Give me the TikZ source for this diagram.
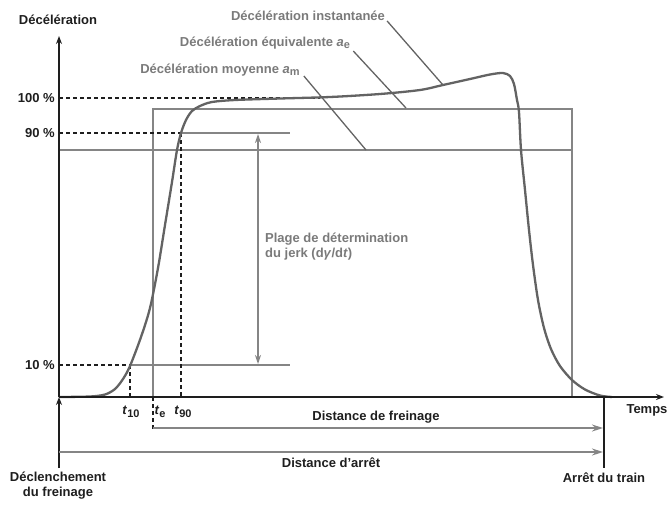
\documentclass[tikz,border=0pt]{standalone}
\usepackage{fontspec}
\setmainfont{Liberation Sans}
\usetikzlibrary{arrows.meta}
\definecolor{gtext}{HTML}{7A7A7A}
\definecolor{gline}{HTML}{858585}
\definecolor{gcurve}{HTML}{636363}
\definecolor{dark}{HTML}{1E1E1E}
\begin{document}
\begin{tikzpicture}[x=1pt,y=-1pt,
  lbl/.style={font=\fontsize{13}{15}\selectfont\bfseries, text=dark, inner sep=0pt},
  glbl/.style={font=\fontsize{13}{15}\selectfont\bfseries, text=gtext, inner sep=0pt},
  axisline/.style={draw=dark, line width=1.3pt},
  dashline/.style={draw=dark, line width=1.2pt, dash pattern=on 4pt off 3pt},
  gl/.style={draw=gline, line width=2pt},
  leader/.style={draw=gcurve, line width=1.3pt},
  darr/.style={draw=gline, line width=1.6pt, -{Stealth[length=11pt,width=7pt]}},
  tip/.style={-{Stealth[length=8pt,width=6pt]}}
]
\useasboundingbox (0,0) rectangle (669,504);

% coordinates
\coordinate (O) at (59,397);
\coordinate (Ytop) at (59,36);
\coordinate (Xend) at (664,397);
\coordinate (Obot) at (59,468);
\coordinate (Sbot) at (604,468);
\coordinate (Stop) at (604,397);

% a_e rectangle and a_m line
\draw[gl] (153,397) -- (153,108.5) -- (572,108.5) -- (572,397);
\draw[gl] (59,150) -- (572,150);

% 90% and 10% lines
\draw[gl] (181,133) -- (290,133);
\draw[gl] (130,365) -- (290,365);
\draw[dashline] (59,98) -- (320,98);
\draw[dashline] (59,133) -- (181,133);
\draw[dashline] (59,365) -- (130,365);
\draw[dashline] (181,133) -- (181,397);
\draw[dashline] (130,365) -- (130,397);
\draw[dashline] (153,397) -- (153,431);

% jerk range double arrow
\coordinate (J1) at (258,134);
\coordinate (J2) at (258,364);
\draw[draw=gline, line width=1.3pt, {Stealth[length=9pt,width=6pt]}-{Stealth[length=9pt,width=6pt]}] (J1) -- (J2);

% instantaneous deceleration curve
\draw[draw=gcurve, line width=2.3pt, line join=round] plot[smooth, tension=0.5] coordinates {
(59,397) (90,396.5) (105,394.5) (115,389) (123,379) (130,366) (141,337) (150,308)
(158,268) (165,225) (172,182) (177,150) (181,133) (186,120) (192,111) (200,106)
(212,102) (235,100) (280,98.5) (330,97) (380,94) (420,90) (443,85) (470,79) (490,74.5) (503,73)
(510,76) (514,84) (517,100) (519,112) (521,150) (525,190) (529,230) (533,265)
(538,300) (544,328) (551,349) (560,366) (572,380) (585,389.5) (600,395.5) (612,397)};

% axes
\draw[axisline, tip] (O) -- (Ytop);
\draw[axisline, tip] (O) -- (Xend);
\draw[axisline, tip] (Obot) -- (O);
\draw[axisline] (Stop) -- (Sbot);

% distances
\coordinate (DF1) at (153,428);
\coordinate (DF2) at (603,428);
\coordinate (DA1) at (59,452);
\coordinate (DA2) at (603,452);
\draw[darr] (DF1) -- (DF2);
\draw[darr] (DA1) -- (DA2);

% labels
\node[lbl] (ylab) at (58,20) {Décélération};
\node[lbl, anchor=east] (p100) at (55,98) {100~\%};
\node[lbl, anchor=east] (p90) at (55,133) {90~\%};
\node[lbl, anchor=east] (p10) at (55,365) {10~\%};
\node[lbl] (temps) at (647,410) {Temps};
\node[lbl] (t10) at (131,412) {\textit{t}\raisebox{-0.35ex}{\fontsize{11}{12}\selectfont 10}};
\node[lbl] (te) at (160,412) {\textit{t}\raisebox{-0.35ex}{\fontsize{11}{12}\selectfont e}};
\node[lbl] (t90) at (183,412) {\textit{t}\raisebox{-0.35ex}{\fontsize{11}{12}\selectfont 90}};
\node[lbl] (dfr) at (376,417) {Distance de freinage};
\node[lbl] (dar) at (331,463) {Distance d’arrêt};
\node[lbl] (arr) at (604,478) {Arrêt du train};
\node[lbl, align=center] (decl) at (58,486) {Déclenchement\\du freinage};

\node[glbl] (inst) at (308,16) {Décélération instantanée};
\node[glbl] (equi) at (265,43) {Décélération équivalente \textit{a}\raisebox{-0.35ex}{\fontsize{11}{12}\selectfont e}};
\node[glbl] (moy) at (220,70) {Décélération moyenne \textit{a}\raisebox{-0.35ex}{\fontsize{11}{12}\selectfont m}};
\node[glbl, align=left, anchor=north west] (plage) at (265,233) {Plage de détermination\\du jerk (d\textit{γ}/d\textit{t})};

% leaders
\coordinate (Linst) at (443,85);
\coordinate (Lequi) at (406,108);
\coordinate (Lmoy) at (366,150);
\draw[leader] ([xshift=2pt,yshift=-5pt]inst.east) -- (Linst);
\draw[leader] ([xshift=3pt,yshift=-8pt]equi.east) -- (Lequi);
\draw[leader] ([xshift=4pt,yshift=-6pt]moy.east) -- (Lmoy);
\end{tikzpicture}
\end{document}
